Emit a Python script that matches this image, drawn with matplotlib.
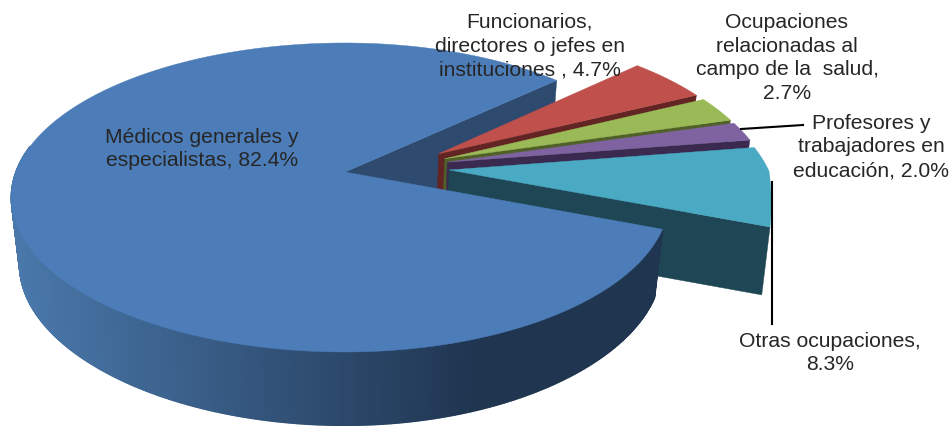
import numpy as np
import matplotlib
matplotlib.use("Agg")
import matplotlib.pyplot as plt
from matplotlib.collections import PolyCollection
from matplotlib.colors import to_rgb

# --- data ---
categories = ["Médicos generales y especialistas",
              "Funcionarios, directores o jefes en instituciones",
              "Ocupaciones relacionadas al campo de la salud",
              "Profesores y trabajadores en educación",
              "Otras ocupaciones"]
values = [82.4, 4.7, 2.7, 2.0, 8.3]
labels = ["Médicos generales y\nespecialistas, 82.4%",
          "Funcionarios,\ndirectores o jefes en\ninstituciones , 4.7%",
          "Ocupaciones\nrelacionadas al\ncampo de la  salud,\n2.7%",
          "Profesores y\ntrabajadores en\neducación, 2.0%",
          "Otras ocupaciones,\n8.3%"]
top_colors = ["#4c7db8", "#bf504c", "#9aba58", "#7f63a1", "#4aa9c3"]
wall_colors = ["#2e4a6e", "#632523", "#4f6128", "#3a2a50", "#1f4654"]

# --- layout / style (pixel space of the 951x427 figure) ---
label_pos = [(202, 149), (530, 46), (787, 58), (871, 147), (830, 353)]
X0, Y0 = 345, 173          # apex of the big slice
A_L, A_R, B, P = 329, 320, 150.3, 0.165
DZ, S, B2, P2 = 68, 0.975, 152, 0.20
EXPLODE = 0.165
START = -21.0              # degrees; slices run clockwise
RIM_KNEE, RIM_SOFT = 424, 0.3


def proj(x, y, low=False):
    x, y = np.asarray(x, float), np.asarray(y, float)
    a = np.where(x < 0, A_L, A_R)
    if low:
        return (X0 + S * a * x / (1 + P * y),
                Y0 + DZ - S * B2 * y / (1 + P2 * y))
    off = a * x / (1 + P * y)
    off = np.where(off > RIM_KNEE, RIM_KNEE + (off - RIM_KNEE) * RIM_SOFT, off)
    return X0 + off, Y0 - B * y / (1 + P * y)


def shade(c_from, c_to, t):
    a, b = np.array(to_rgb(c_from)), np.array(to_rgb(c_to))
    return tuple(a + (b - a) * t)


fracs = np.array(values) / sum(values) * 360
starts = START - np.concatenate(([0], np.cumsum(fracs[:-1])))
ends = starts - fracs
mids = (starts + ends) / 2
main_dir = np.radians(mids[0])
offx = EXPLODE * (np.cos(np.radians(mids)) - np.cos(main_dir))
offy = EXPLODE * (np.sin(np.radians(mids)) - np.sin(main_dir))

fig = plt.figure(figsize=(9.51, 4.27), dpi=100)
ax = fig.add_axes([0, 0, 1, 1])
ax.set_xlim(0, 951)
ax.set_ylim(427, 0)
ax.axis("off")


def radial_wall(i, ang, color, z):
    a = np.radians(ang)
    x, y = [offx[i], offx[i] + np.cos(a)], [offy[i], offy[i] + np.sin(a)]
    t = np.column_stack(proj(x, y))
    b = np.column_stack(proj(x, y, low=True))
    p = [t[0], t[1], b[1], b[0]]
    ax.fill(*zip(*p), color=color, lw=0.3, zorder=z)


def rim_wall(i, a0, a1, colorfn, z):
    th = np.radians(np.linspace(a0, a1, 400))
    x, y = offx[i] + np.cos(th), offy[i] + np.sin(th)
    tx, ty = proj(x, y)
    bx, by = proj(x, y, low=True)
    polys, cols = [], []
    for k in range(len(th) - 1):
        polys.append([(tx[k], ty[k]), (tx[k + 1], ty[k + 1]),
                      (bx[k + 1], by[k + 1]), (bx[k], by[k])])
        cols.append(colorfn(0.5 * (tx[k] + tx[k + 1])))
    ax.add_collection(PolyCollection(polys, facecolors=cols, edgecolors=cols,
                                     linewidths=1.2, zorder=z))


def top_face(i, z):
    th = np.radians(np.linspace(starts[i], ends[i], 300))
    x = np.concatenate(([offx[i]], offx[i] + np.cos(th)))
    y = np.concatenate(([offy[i]], offy[i] + np.sin(th)))
    px, py = proj(x, y)
    ax.fill(px, py, color=top_colors[i], lw=0.3, zorder=z)


# far radial wall of the big slice
radial_wall(0, ends[0], wall_colors[0], 1)

# exploded slices, back to front; only the lower radial wall faces the viewer
for n, i in enumerate(range(1, len(values))):
    z = 2 + n
    radial_wall(i, ends[i], wall_colors[i], z)
    top_face(i, z + 0.5)


# big slice: curved outer wall with horizontal shading, then its top
def main_shade(x):
    t = np.clip((x - 15) / (480 - 15), 0, 1)
    return shade("#4a78ab", "#1f3550", t)


rim_wall(0, 170, 360 + starts[0], main_shade, 10)
top_face(0, 11)

# leader lines
ax.plot([741, 803], [130, 126], color="black", lw=1.5, zorder=12)
ax.plot([772, 772], [183, 325], color="black", lw=1.5, zorder=12)

for txt, (lx, ly) in zip(labels, label_pos):
    ax.text(lx, ly, txt, ha="center", va="center", fontsize=15.2,
            family="Liberation Sans", color="#262626", linespacing=1.32, zorder=13)

fig.savefig("out.png", dpi=100)
